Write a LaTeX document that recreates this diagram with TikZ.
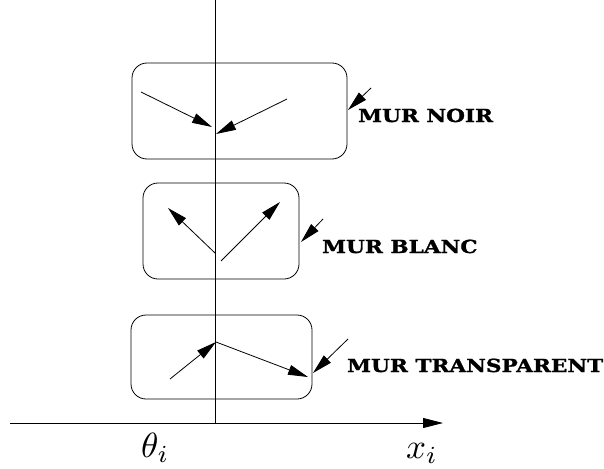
\documentclass[tikz,border=0pt]{standalone}
\usepackage{fontspec}
\newfontfamily\labfont[BoldFeatures={FakeBold=1.2}]{DejaVu Serif}
\usetikzlibrary{arrows.meta}
\begin{document}
\begin{tikzpicture}[x=1pt,y=-1pt,
  wall/.style={draw,line width=0.8pt,rounded corners=15pt,inner sep=0pt},
  ray/.style={line width=0.8pt,-{Triangle[length=20pt,width=10pt]}},
  lab/.style={anchor=base west,inner sep=0pt,font=\labfont\bfseries\fontsize{18}{20}\selectfont},
  mathlab/.style={anchor=base west,inner sep=0pt}]
\useasboundingbox (0,0) rectangle (604,468);
% axes
\coordinate (vtop) at (215,0);
\coordinate (vbot) at (215,423);
\coordinate (hl) at (10,423);
\coordinate (hr) at (443,423);
\draw[line width=0.8pt] (vtop) -- (vbot);
\draw[line width=0.8pt,-{Triangle[length=20pt,width=10pt]}] (hl) -- (hr);
% boxes
\node[wall,minimum width=215pt,minimum height=96pt] (b1) at (239.5,111) {};
\node[wall,minimum width=156pt,minimum height=96pt] (b2) at (221,231) {};
\node[wall,minimum width=181pt,minimum height=84pt] (b3) at (221.5,357) {};
% box 1 rays
\coordinate (a1) at (141,92);
\coordinate (a2) at (212,127);
\coordinate (a3) at (287,99);
\coordinate (a4) at (216,134);
\draw[ray] (a1) -- (a2);
\draw[ray] (a3) -- (a4);
% box 2 rays
\coordinate (c1) at (215,253);
\coordinate (c2) at (168,208);
\coordinate (c3) at (221,261);
\coordinate (c4) at (280,202);
\draw[ray] (c1) -- (c2);
\draw[ray] (c3) -- (c4);
% box 3 rays
\coordinate (d1) at (170,379);
\coordinate (d2) at (216,342);
\coordinate (d3) at (308,377);
\draw[ray] (d1) -- (d2);
\draw[ray] (d2) -- (d3);
% labels
\node[lab] (t1) at (358,122) {\scalebox{1.2}[1]{MUR NOIR}};
\node[lab] (t2) at (322,253) {\scalebox{1.2}[1]{MUR BLANC}};
\node[lab] (t3) at (347,372) {\scalebox{1.2}[1]{MUR TRANSPARENT}};
\coordinate (p1) at (371,88);
\coordinate (q1) at (348,110);
\coordinate (p2) at (323,219);
\coordinate (q2) at (301,242);
\coordinate (p3) at (348,339);
\coordinate (q3) at (313,373);
\draw[ray] (p1) -- (q1);
\draw[ray] (p2) -- (q2);
\draw[ray] (p3) -- (q3);
% axis labels
\node[mathlab] (th) at (141,457) {\scalebox{3.5}{$\theta_i$}};
\node[mathlab] (xi) at (406,458) {\scalebox{3.5}{$x_i$}};
\end{tikzpicture}
\end{document}
